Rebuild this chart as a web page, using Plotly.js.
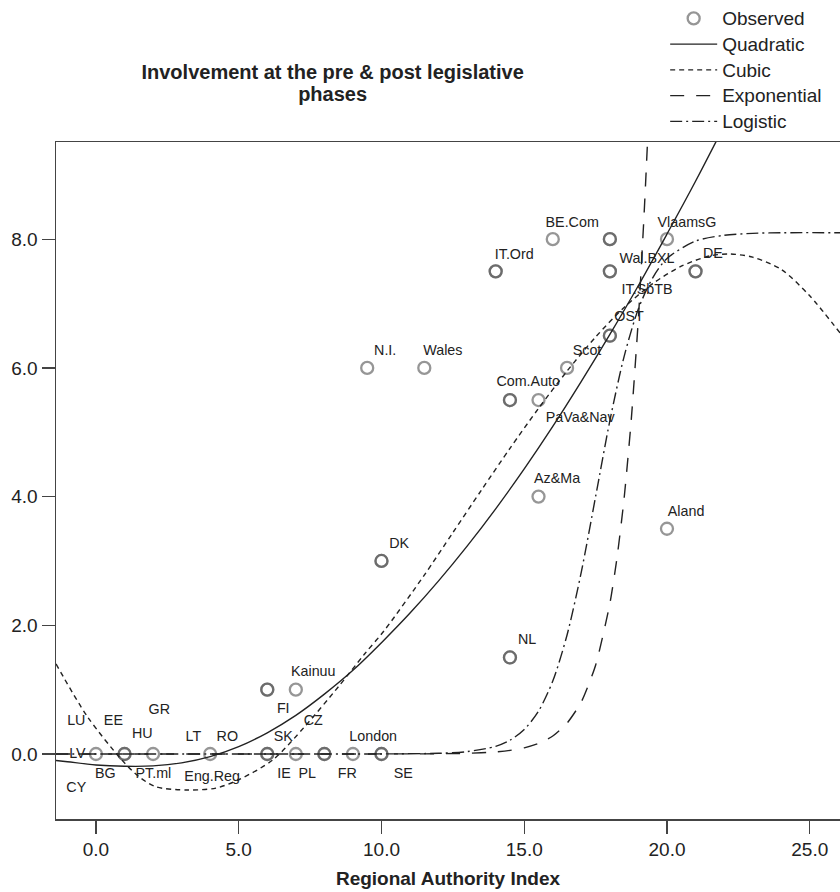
<!DOCTYPE html>
<html>
<head>
<meta charset="utf-8">
<script src="https://cdn.plot.ly/plotly-3.0.1.min.js"></script>
<style>
  html, body { margin: 0; padding: 0; background: #ffffff; }
  #chart { width: 840px; height: 892px; }
</style>
</head>
<body>
<div id="chart"></div>
<script>
// ---------- Observed data (duplicates = overlapping regions) ----------
var obsRAI = [0, 1, 1, 2, 4, 6, 6, 7, 8, 8, 9, 10, 10, 6, 6, 7, 10, 10, 9.5, 11.5,
              14.5, 14.5, 14.5, 14.5, 15.5, 15.5, 16.5, 18, 18, 14, 14, 16, 18, 18, 20,
              18, 18, 21, 21, 20];
var obsInvolvement = [0, 0, 0, 0, 0, 0, 0, 0, 0, 0, 0, 0, 0, 1, 1, 1, 3, 3, 6, 6,
              1.5, 1.5, 5.5, 5.5, 5.5, 4, 6, 6.5, 6.5, 7.5, 7.5, 8, 8, 8, 8,
              7.5, 7.5, 7.5, 7.5, 3.5];

// ---------- Region labels ----------
var labelText = ["LU", "EE", "GR", "HU", "LT", "RO", "SK", "CZ", "FI", "London",
                 "LV", "BG", "PT.ml", "Eng.Reg", "IE", "PL", "FR", "SE", "CY", "Kainuu",
                 "DK", "NL", "N.I.", "Wales", "Scot", "Com.Auto", "PaVa&Nav", "Az&Ma", "Aland",
                 "BE.Com", "VlaamsG", "IT.Ord", "Wal.BXL", "DE", "IT.SbTB", "OST"];
var labelRAI = [-0.69, 0.61, 2.22, 1.62, 3.41, 4.60, 6.56, 7.61, 6.56, 9.71,
                -0.65, 0.33, 2.01, 4.07, 6.59, 7.40, 8.80, 10.76, -0.69, 7.61,
                10.62, 15.10, 10.13, 12.15, 17.20, 15.14, 16.96, 16.15, 20.67,
                16.68, 20.70, 14.65, 19.30, 21.61, 19.30, 18.67];
var labelInvolvement = [0.51, 0.50, 0.68, 0.31, 0.25, 0.25, 0.25, 0.51, 0.70, 0.25,
                0.00, -0.31, -0.31, -0.36, -0.31, -0.31, -0.31, -0.31, -0.53, 1.26,
                3.25, 1.76, 6.25, 6.25, 6.25, 5.77, 5.21, 4.26, 3.76,
                8.25, 8.25, 7.75, 7.69, 7.76, 7.20, 6.78];

// ---------- Fitted curves ----------
var quadX = [-1.4, -1, 0, 1, 2, 3, 4, 5, 6, 7, 8, 9, 10, 11, 12, 13, 14, 15, 16, 17, 18, 19, 20, 21, 22];
var quadY = [-0.10, -0.12, -0.17, -0.19, -0.185, -0.137, -0.04, 0.115, 0.33, 0.60, 0.93, 1.30, 1.73, 2.19, 2.69, 3.23, 3.81, 4.43, 5.09, 5.79, 6.52, 7.28, 8.08, 8.90, 9.76];

var cubicX = [-1.4, -0.3, 0.9, 1.5, 2.1, 3.2, 4.2, 5.0, 6.2, 7.3, 8.5, 9.4, 10.1, 11.5, 12.5, 13.5, 14.5, 15.5, 16.5, 17.5, 18.5, 19.5, 20.5, 21.5, 22.2, 23, 24, 25, 26.1];
var cubicY = [1.40, 0.58, -0.09, -0.35, -0.51, -0.56, -0.53, -0.40, -0.09, 0.42, 1.05, 1.55, 1.92, 2.78, 3.44, 4.10, 4.75, 5.37, 5.95, 6.48, 6.94, 7.31, 7.58, 7.74, 7.77, 7.72, 7.53, 7.12, 6.52];

var expX = [-1.4, 4, 8, 11, 12, 13, 14, 14.5, 15, 15.5, 16, 16.5, 17, 17.5, 18, 18.25, 18.5, 18.75, 19, 19.2, 19.4];
var expY = [0, 0, 0.0003, 0.002, 0.004, 0.011, 0.033, 0.057, 0.096, 0.164, 0.28, 0.48, 0.81, 1.38, 2.34, 3.05, 3.98, 5.2, 6.78, 8.4, 10.3];

var logX = [-1.4, 4, 8, 10, 12, 13, 14, 14.5, 15, 15.5, 16, 16.5, 17, 17.5, 18, 18.5, 19, 19.5, 20, 21, 22, 23, 24, 26.1];
var logY = [0, 0, 0.0001, 0.001, 0.011, 0.037, 0.119, 0.214, 0.381, 0.666, 1.134, 1.85, 2.83, 4.00, 5.18, 6.18, 6.92, 7.40, 7.70, 7.97, 8.06, 8.09, 8.10, 8.10];

// ---------- Axis ticks ----------
var xTicks = [0, 5, 10, 15, 20, 25];
var yTicks = [0, 2, 4, 6, 8];

var FONT = 'Liberation Sans, Arial, Helvetica, sans-serif';
var LINE = '#222222';

function big(t) { return '<span style="font-size:19px">' + t + '</span>'; }

var traces = [
  {
    name: big('Observed'), x: obsRAI, y: obsInvolvement, type: 'scatter', mode: 'markers',
    marker: { symbol: 'circle-open', size: 12, color: 'rgba(80,80,80,0.6)',
              line: { width: 2.3, color: 'rgba(80,80,80,0.6)' } },
    hoverinfo: 'skip'
  },
  {
    name: big('Quadratic'), x: quadX, y: quadY, type: 'scatter', mode: 'lines',
    line: { color: LINE, width: 1.4, shape: 'spline', smoothing: 1 }
  },
  {
    name: big('Cubic'), x: cubicX, y: cubicY, type: 'scatter', mode: 'lines',
    line: { color: LINE, width: 1.4, dash: '5px,4px', shape: 'spline', smoothing: 0.8 }
  },
  {
    name: big('Exponential'), x: expX, y: expY, type: 'scatter', mode: 'lines',
    line: { color: LINE, width: 1.4, dash: '14px,12px', shape: 'spline', smoothing: 0.6 }
  },
  {
    name: big('Logistic'), x: logX, y: logY, type: 'scatter', mode: 'lines',
    line: { color: LINE, width: 1.4, dash: '12px,4px,2px,4px', shape: 'spline', smoothing: 0.8 }
  },
  {
    name: 'labels', x: labelRAI, y: labelInvolvement, text: labelText, type: 'scatter',
    mode: 'text', textposition: 'middle center', showlegend: false, cliponaxis: false,
    textfont: { family: FONT, size: 14.3, color: '#222' }, hoverinfo: 'skip'
  }
];

var layout = {
  width: 840, height: 892,
  margin: { l: 56, r: 0, t: 142, b: 73, pad: 0 },
  paper_bgcolor: '#ffffff', plot_bgcolor: '#ffffff',
  font: { family: FONT, size: 19, color: '#222' },
  title: {
    text: '<b><span style="font-size:20px">Involvement at the pre &amp; post legislative</span><br><span style="font-size:20px">phases</span></b>',
    font: { family: FONT, size: 17, color: '#222' },
    xref: 'container', x: 0.396, xanchor: 'center',
    yref: 'container', y: 0.911, yanchor: 'middle'
  },
  xaxis: {
    range: [-1.40, 26.06], tickvals: xTicks, tickformat: '.1f',
    ticks: 'outside', ticklen: 13, tickwidth: 1.3, tickcolor: '#444',
    showline: true, linecolor: '#444', linewidth: 1.5, mirror: true,
    showgrid: false, zeroline: false,
    tickfont: { family: FONT, size: 19, color: '#222' },
    title: { text: '<b>Regional Authority Index</b>', font: { family: FONT, size: 19, color: '#222' }, standoff: 12 }
  },
  yaxis: {
    range: [-1.01, 9.51], tickvals: yTicks, tickformat: '.1f',
    ticks: 'outside', ticklen: 13, tickwidth: 1.3, tickcolor: '#444',
    showline: true, linecolor: '#444', linewidth: 1.5, mirror: false,
    showgrid: false, zeroline: false,
    tickfont: { family: FONT, size: 19, color: '#222' }
  },
  showlegend: true,
  legend: {
    x: 0.777, xref: 'paper', xanchor: 'left',
    y: 1.209, yref: 'paper', yanchor: 'top',
    font: { family: FONT, size: 17.5, color: '#222' },
    bgcolor: 'rgba(0,0,0,0)', borderwidth: 0, tracegroupgap: 0,
    itemwidth: 47
  }
};

Plotly.newPlot('chart', traces, layout, { staticPlot: true, displayModeBar: false });
</script>
</body>
</html>
